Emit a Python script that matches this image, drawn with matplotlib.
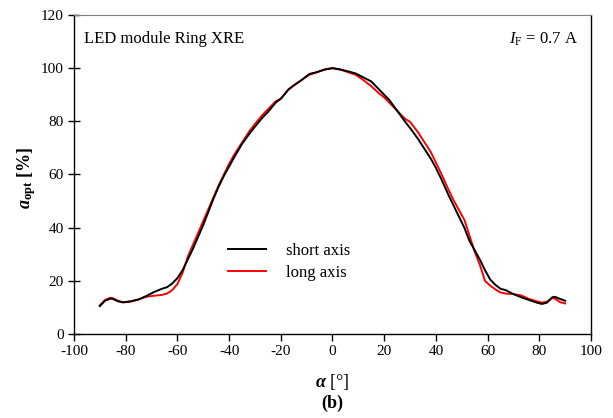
import matplotlib
matplotlib.use("Agg")
import matplotlib.pyplot as plt

plt.rcParams["font.family"] = ["Liberation Serif", "DejaVu Serif"]
plt.rcParams["mathtext.fontset"] = "custom"
plt.rcParams["mathtext.rm"] = "Liberation Serif"
plt.rcParams["mathtext.it"] = "Liberation Serif:italic"
plt.rcParams["mathtext.bf"] = "Liberation Serif:bold"
plt.rcParams["mathtext.bfit"] = "Liberation Serif:bold:italic"
plt.rcParams["axes.unicode_minus"] = False

# angle grid (deg) shared by both measured profiles
angle = [-90, -88, -86, -85, -83, -81, -78, -75, -72, -69, -66, -64, -62, -60,
         -58, -56, -54, -52, -50, -48, -46, -44, -42, -40, -38, -35, -32, -30,
         -27, -25, -22, -20, -17, -15, -12, -9, -6, -3, 0, 3, 6, 9, 12, 15, 18,
         20, 22, 25, 28, 30, 33, 35, 38, 40, 42, 45, 47, 49, 51, 53, 55, 57, 59,
         61, 63, 65, 67, 70, 73, 76, 79, 81, 83, 85, 86, 88, 90]
short_axis = [10.5, 12.5, 13.3, 13.2, 12.3, 11.9, 12.3, 13.0, 14.3, 15.8, 17.0,
              17.6, 19.0, 21.0, 24.0, 28.0, 32.0, 36.5, 41, 46, 51, 55.5, 59.5,
              63, 66.5, 71.5, 75.5, 78, 81.5, 83.5, 87, 88.5, 92, 93.5, 95.5,
              97.8, 98.5, 99.5, 100, 99.5, 98.8, 98, 96.5, 95, 92, 90, 88, 84,
              80, 77.5, 73.5, 70.5, 66, 62.5, 58.5, 52, 48, 44, 40, 35, 31.5,
              28, 24, 20.5, 18.5, 17, 16.5, 15, 13.8, 12.8, 11.8, 11.3, 11.8,
              13.8, 14, 13.2, 12.5]
long_axis = [10.8, 12.8, 13.6, 13.5, 12.5, 11.9, 12.2, 13.0, 14.0, 14.4, 14.7,
             15.2, 16.5, 18.8, 23.0, 29.0, 33.5, 38, 42.5, 47, 51.5, 56, 60,
             64, 67.5, 72, 76.5, 79, 82.5, 84.5, 87.5, 88.5, 92, 93.5, 95.5,
             97.5, 98.5, 99.5, 100, 99.5, 98.5, 97.5, 95.5, 93.2, 90.5, 89, 87,
             84, 81, 79.8, 76, 73, 68.5, 64.5, 60.5, 54, 50, 46.5, 43, 37, 31,
             26, 20, 18.2, 16.8, 15.6, 15.2, 15, 14.5, 13.2, 12.3, 11.8, 12.2,
             13.5, 13.3, 12, 11.5]

x_ticks = list(range(-100, 101, 20))
y_ticks = list(range(0, 121, 20))

fig = plt.figure(figsize=(6.13, 4.18), dpi=100)
ax = fig.add_axes([0.1207, 0.2010, 0.8434, 0.7631])

ax.plot(angle, short_axis, color="black", lw=1.4, label="short axis", zorder=3)
ax.plot(angle, long_axis, color="#ff0000", lw=1.4, label="long axis", zorder=2)

ax.set_xlim(-100, 100)
ax.set_ylim(0, 120)
ax.set_xticks(x_ticks)
ax.set_yticks(y_ticks)
ax.tick_params(axis="x", direction="out", length=5, width=1, labelsize=11, pad=3)
ax.tick_params(axis="y", direction="inout", length=9, width=1, labelsize=11, pad=3)
ax.spines["top"].set_color("#808080")
for side in ["left", "right", "bottom"]:
    ax.spines[side].set_linewidth(1)

ax.set_xlabel(r"$\mathbfit{\alpha}$ [°]", fontsize=13, labelpad=10)
ax.set_ylabel(r"$\mathbfit{a}_{\mathbf{opt}}$ [%]", fontsize=13, fontweight="bold", labelpad=0)
ax.yaxis.set_label_coords(-0.07, 0.49)

ax.text(0.02, 0.925, "LED module Ring XRE", transform=ax.transAxes,
        fontsize=12, va="center", ha="left")
ax.text(0.975, 0.925, r"$I_{\mathrm{F}}$ = 0.7 A", transform=ax.transAxes,
        fontsize=12, va="center", ha="right")

ax.legend(frameon=False, loc="center left", bbox_to_anchor=(0.298, 0.226),
          fontsize=12, handlelength=2.3, handletextpad=1.2, labelspacing=0.35,
          borderaxespad=0, borderpad=0)

fig.text(0.542, 0.035, "(b)", fontsize=13, fontweight="bold", ha="center", va="center")

fig.savefig("out.png", dpi=100)
